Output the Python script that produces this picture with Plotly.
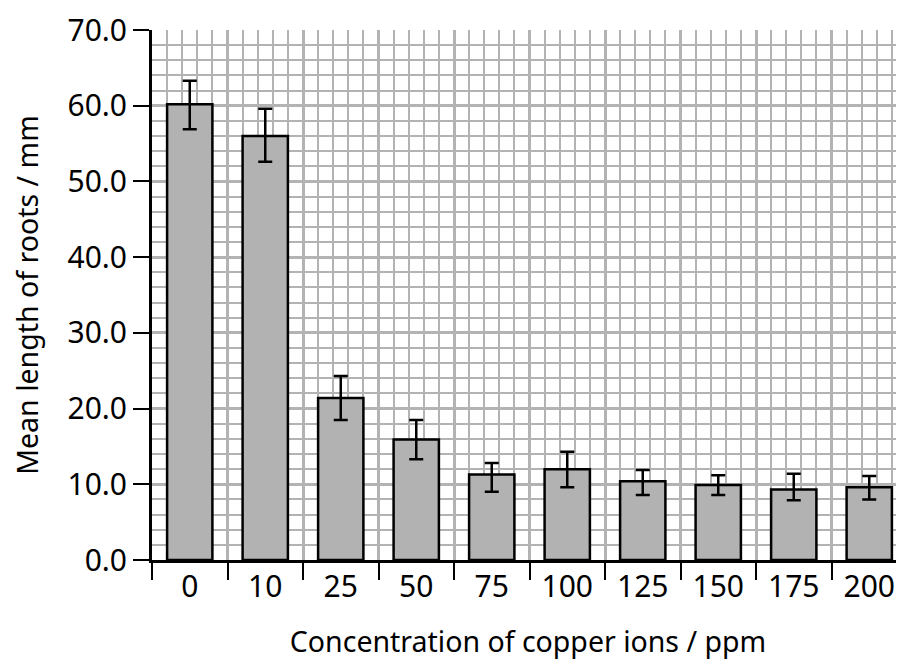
import plotly.graph_objects as go

categories = ["0", "10", "25", "50", "75", "100", "125", "150", "175", "200"]
mean_length = [60.2, 56.0, 21.4, 15.9, 11.3, 12.0, 10.4, 9.9, 9.3, 9.6]
err_plus = [3.1, 3.6, 2.9, 2.6, 1.5, 2.3, 1.5, 1.3, 2.1, 1.5]
err_minus = [3.3, 3.4, 2.9, 2.6, 2.3, 2.4, 1.8, 1.3, 1.4, 1.6]
y_ticks = [0, 10, 20, 30, 40, 50, 60, 70]

FONT = "Noto Sans"
GRID = "#b3b3b3"
positions = list(range(len(categories)))
boundaries = [p - 0.5 for p in positions] + [positions[-1] + 0.5]
x_minor = [b + 0.2 * j for b in boundaries[:-1] for j in range(1, 5)]
y_minor = [v for v in range(0, 71, 2) if v % 10]

fig = go.Figure()
fig.add_trace(go.Bar(
    x=positions, y=mean_length, width=0.6,
    marker=dict(color="#b2b2b2", line=dict(color="black", width=2.5)),
    error_y=dict(type="data", symmetric=False, array=err_plus, arrayminus=err_minus,
                 color="black", thickness=2.5, width=7),
    xaxis="x", yaxis="y", showlegend=False, hoverinfo="skip",
))
fig.add_trace(go.Scatter(
    x=positions, y=mean_length, mode="markers", marker=dict(opacity=0),
    xaxis="x2", yaxis="y", showlegend=False, hoverinfo="skip",
))

xr = [-0.5, -0.5 + 752 / 75.5]
# page body has an 8px margin; figure sized so the plot lands at the reference position
fig.update_layout(
    width=896, height=661,
    margin=dict(l=144, r=0, t=22, b=109),
    paper_bgcolor="white", plot_bgcolor="white",
    font=dict(family=FONT, size=30, color="black"),
    xaxis=dict(
        range=xr, tickmode="array", tickvals=boundaries, showticklabels=False,
        ticks="outside", ticklen=17, tickwidth=1.5, tickcolor="black",
        showgrid=True, gridcolor=GRID, gridwidth=3,
        minor=dict(tickmode="array", tickvals=x_minor, showgrid=True, gridcolor=GRID, gridwidth=1.7, ticks=""),
        showline=True, linecolor="black", linewidth=3, zeroline=False,
        automargin=False, fixedrange=True,
    ),
    xaxis2=dict(
        range=xr, overlaying="x", anchor="y", side="bottom",
        tickmode="array", tickvals=positions, ticktext=categories,
        ticks="outside", ticklen=0, tickcolor="rgba(0,0,0,0)",
        showgrid=False, showline=False, zeroline=False, automargin=False,
        tickfont=dict(family=FONT, size=30),
        title=dict(text="Concentration of copper ions / ppm", font=dict(family=FONT, size=28.5), standoff=27),
    ),
    yaxis=dict(
        range=[0, 70], tickmode="array", tickvals=y_ticks, tickformat=".1f",
        ticks="outside", ticklen=16, tickwidth=2, tickcolor="black",
        showgrid=True, gridcolor=GRID, gridwidth=3,
        minor=dict(tickmode="array", tickvals=y_minor, showgrid=True, gridcolor=GRID, gridwidth=1.7, ticks=""),
        showline=True, linecolor="black", linewidth=3, zeroline=False, automargin=False,
        tickfont=dict(family=FONT, size=30),
        title=dict(text="Mean length of roots / mm", font=dict(family=FONT, size=28.5), standoff=24),
    ),
)

fig.write_html("out.html")
